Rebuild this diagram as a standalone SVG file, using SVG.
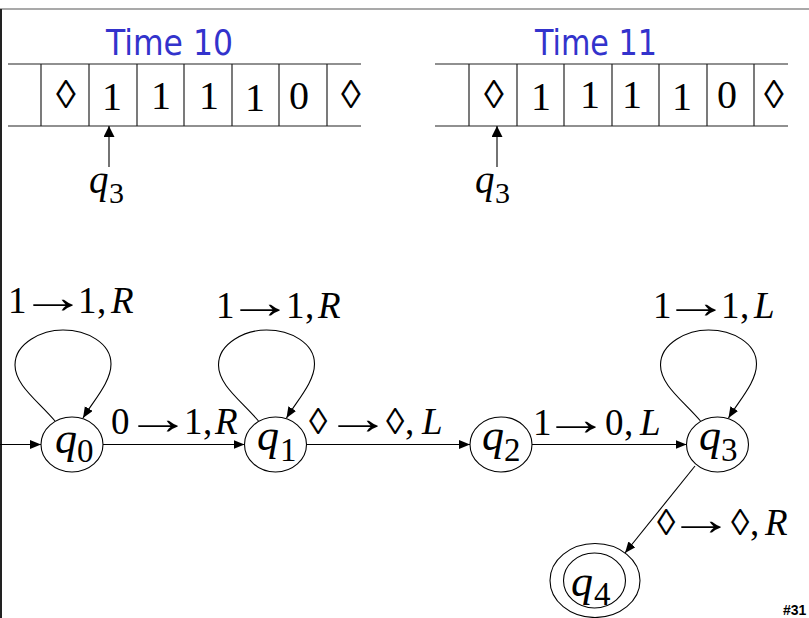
<svg xmlns="http://www.w3.org/2000/svg" width="809" height="618" viewBox="0 0 809 618">
<style>
.tl{stroke:#222;stroke-width:1.2;fill:none}
.ed{stroke:#000;stroke-width:1.1;fill:none}
.nd{stroke:#000;stroke-width:1.1;fill:#fff}
.sym{font-family:"Liberation Serif","Times New Roman",serif;font-size:40px;fill:#000}
.lab{font-family:"Liberation Serif","Times New Roman",serif;font-size:37px;fill:#000}
.it{font-style:italic}
.ar{font-family:"Noto Sans",sans-serif;font-size:46px;fill:#000}
.qv{font-family:"Liberation Serif","Times New Roman",serif;font-size:44px;font-style:italic;fill:#000}
.qs{font-family:"Liberation Serif","Times New Roman",serif;font-size:33px;fill:#000}
.time{font-family:"Comic Sans MS","DejaVu Sans",sans-serif;font-size:36px;fill:#3333cc}
</style>
<defs>
<marker id="ah" markerUnits="userSpaceOnUse" markerWidth="12" markerHeight="10" refX="11" refY="4.5" orient="auto">
<path d="M0,0 L11,4.5 L0,9 z" fill="#000"/>
</marker>
<marker id="ahT" markerUnits="userSpaceOnUse" markerWidth="12" markerHeight="12" refX="11" refY="5.5" orient="auto">
<path d="M0,0 L11,5.5 L0,11 z" fill="#000"/>
</marker>
</defs>
<rect width="809" height="618" fill="#fff"/>
<g id="frame">
<line x1="0" y1="9" x2="809" y2="9" stroke="#555" stroke-width="1.2"/>
<line x1="1" y1="9" x2="1" y2="618" stroke="#222" stroke-width="2"/>
</g>
<g id="tape10">
<text class="time" x="106" y="55" textLength="127" lengthAdjust="spacingAndGlyphs">Time 10</text>
<line class="tl" x1="8" y1="64" x2="361" y2="64"/>
<line class="tl" x1="8" y1="126" x2="361" y2="126"/>
<line class="tl" x1="41" y1="64" x2="41" y2="126"/>
<line class="tl" x1="89" y1="64" x2="89" y2="126"/>
<line class="tl" x1="137" y1="64" x2="137" y2="126"/>
<line class="tl" x1="184" y1="64" x2="184" y2="126"/>
<line class="tl" x1="232" y1="64" x2="232" y2="126"/>
<line class="tl" x1="279" y1="64" x2="279" y2="126"/>
<line class="tl" x1="327" y1="64" x2="327" y2="126"/>
<g class="sym" text-anchor="middle">
<text x="66" y="108">◊</text>
<text x="112" y="110">1</text>
<text x="161" y="109">1</text>
<text x="209" y="109">1</text>
<text x="255" y="111">1</text>
<text x="299" y="109">0</text>
<text x="351" y="108">◊</text>
</g>
<line class="ed" x1="109" y1="167" x2="109" y2="126" marker-end="url(#ahT)"/>
<text class="qv" x="89" y="193" style="font-size:39px">q</text>
<text class="qs" x="109" y="203" style="font-size:30px">3</text>
</g>
<g id="tape11">
<text class="time" x="535" y="55" textLength="122" lengthAdjust="spacingAndGlyphs">Time 11</text>
<line class="tl" x1="435" y1="64" x2="788" y2="64"/>
<line class="tl" x1="435" y1="126" x2="788" y2="126"/>
<line class="tl" x1="469" y1="64" x2="469" y2="126"/>
<line class="tl" x1="517" y1="64" x2="517" y2="126"/>
<line class="tl" x1="564" y1="64" x2="564" y2="126"/>
<line class="tl" x1="612" y1="64" x2="612" y2="126"/>
<line class="tl" x1="659" y1="64" x2="659" y2="126"/>
<line class="tl" x1="707" y1="64" x2="707" y2="126"/>
<line class="tl" x1="754" y1="64" x2="754" y2="126"/>
<g class="sym" text-anchor="middle">
<text x="494" y="108">◊</text>
<text x="541" y="110">1</text>
<text x="590" y="108">1</text>
<text x="632" y="108">1</text>
<text x="682" y="110">1</text>
<text x="727" y="108">0</text>
<text x="774" y="108">◊</text>
</g>
<line class="ed" x1="497" y1="167" x2="497" y2="126" marker-end="url(#ahT)"/>
<text class="qv" x="475" y="193" style="font-size:39px">q</text>
<text class="qs" x="495" y="203" style="font-size:30px">3</text>
</g>
<g id="connectors">
<line class="ed" x1="0" y1="444.5" x2="41" y2="444.5" marker-end="url(#ah)"/>
<line class="ed" x1="103" y1="444.5" x2="244.5" y2="444.5" marker-end="url(#ah)"/>
<line class="ed" x1="306.5" y1="444.5" x2="470" y2="444.5" marker-end="url(#ah)"/>
<line class="ed" x1="532" y1="444.5" x2="686.5" y2="444.5" marker-end="url(#ah)"/>
<path class="ed" d="M55,421 C37,400 15,385 15,365 C15,343 42,330 63,330 C87,330 111,343 111,364 C111,382 94,400 83,418" marker-end="url(#ah)"/>
<path class="ed" d="M258.5,421 C240.5,400 218.5,385 218.5,365 C218.5,343 245.5,330 266.5,330 C290.5,330 314.5,343 314.5,364 C314.5,382 297.5,400 286.5,418" marker-end="url(#ah)"/>
<path class="ed" d="M700.5,421 C682.5,400 660.5,385 660.5,365 C660.5,343 687.5,330 708.5,330 C732.5,330 756.5,343 756.5,364 C756.5,382 739.5,400 728.5,418" marker-end="url(#ah)"/>
<line class="ed" x1="695" y1="466" x2="625" y2="553" marker-end="url(#ah)"/>
</g>
<g id="edge-labels">
<text class="lab" y="313"><tspan x="8">1</tspan><tspan x="78">1</tspan><tspan x="97">,</tspan><tspan x="111" class="it">R</tspan></text>
<text class="ar" transform="translate(20,313) scale(1.45,1)">→</text>
<text class="lab" y="318"><tspan x="216">1</tspan><tspan x="286">1</tspan><tspan x="305">,</tspan><tspan x="318" class="it">R</tspan></text>
<text class="ar" transform="translate(227,318) scale(1.45,1)">→</text>
<text class="lab" y="318"><tspan x="653">1</tspan><tspan x="721">1</tspan><tspan x="740">,</tspan><tspan x="754" class="it">L</tspan></text>
<text class="ar" transform="translate(663,318) scale(1.45,1)">→</text>
<text class="lab" y="434"><tspan x="111">0</tspan><tspan x="184">1</tspan><tspan x="203">,</tspan><tspan x="215" class="it">R</tspan></text>
<text class="ar" transform="translate(125,434) scale(1.45,1)">→</text>
<text class="lab" y="434"><tspan x="309">◊</tspan><tspan x="386">◊</tspan><tspan x="405">,</tspan><tspan x="422" class="it">L</tspan></text>
<text class="ar" transform="translate(325,434) scale(1.45,1)">→</text>
<text class="lab" y="435"><tspan x="533">1</tspan><tspan x="605">0</tspan><tspan x="624">,</tspan><tspan x="640" class="it">L</tspan></text>
<text class="ar" transform="translate(543,435) scale(1.45,1)">→</text>
<text class="lab" y="535"><tspan x="657">◊</tspan><tspan x="731">◊</tspan><tspan x="750">,</tspan><tspan x="765" class="it">R</tspan></text>
<text class="ar" transform="translate(668,535) scale(1.45,1)">→</text>
</g>
<g id="q0">
<ellipse class="nd" cx="72" cy="444.5" rx="31" ry="27.5"/>
<text class="qv" x="55" y="453">q</text><text class="qs" x="77" y="462">0</text>
</g>
<g id="q1">
<ellipse class="nd" cx="275.5" cy="444.5" rx="31" ry="27.5"/>
<text class="qv" x="257" y="450">q</text><text class="qs" x="280" y="461">1</text>
</g>
<g id="q2">
<ellipse class="nd" cx="501" cy="444.5" rx="31" ry="27.5"/>
<text class="qv" x="482" y="450">q</text><text class="qs" x="504" y="461">2</text>
</g>
<g id="q3">
<ellipse class="nd" cx="717.5" cy="444.5" rx="31" ry="27.5"/>
<text class="qv" x="699" y="450">q</text><text class="qs" x="721" y="461">3</text>
</g>
<g id="q4">
<ellipse class="nd" cx="595" cy="580.5" rx="45" ry="37"/>
<ellipse class="nd" cx="594.5" cy="580.5" rx="31" ry="27.5"/>
<text class="qv" x="571" y="596">q</text><text class="qs" x="594" y="605">4</text>
</g>
<text x="783" y="615" font-family="Liberation Sans, Arial, sans-serif" font-weight="bold" font-size="14" fill="#000">#31</text>
</svg>
